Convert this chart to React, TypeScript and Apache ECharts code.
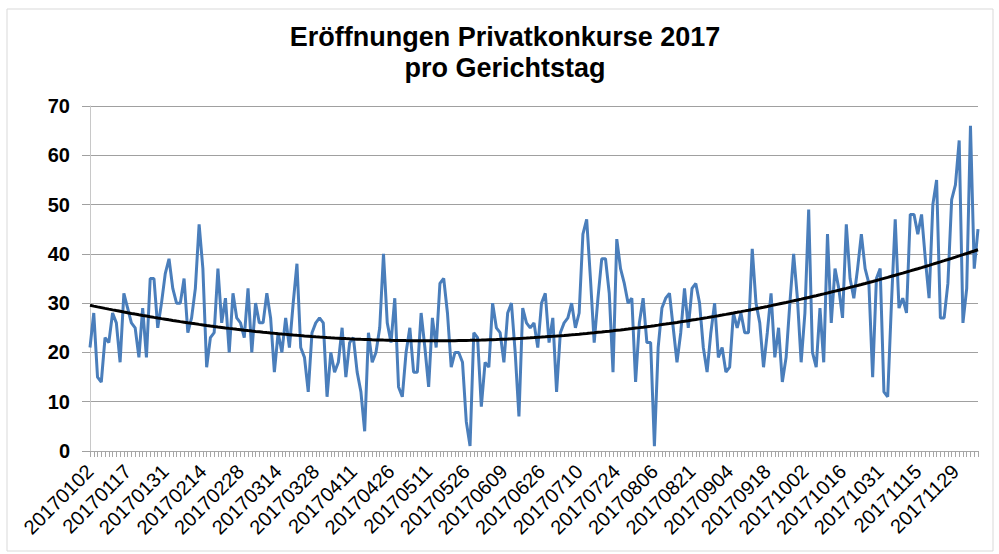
import React, { useEffect, useRef } from "react";
import * as echarts from "echarts";

// Court days: weekdays of 2017 minus Austrian holidays, plus one extra day present in the data
const firstDay = "20170102";
const lastDay = "20171207";
const holidays = [
  "20170101", "20170106", "20170417", "20170501", "20170525", "20170615",
  "20170815", "20171026", "20171101", "20171208", "20171225", "20171226",
];
const extraDays = ["20170806"];

const values = [
  21, 28, 15, 14, 23, 22, 28, 26, 18, 32,
  29, 26, 25, 19, 29, 19, 35, 35, 25, 30,
  36, 39, 33, 30, 30, 35, 24, 27, 33, 46,
  37, 17, 23, 24, 37, 26, 31, 20, 32, 27,
  26, 23, 33, 20, 30, 26, 26, 32, 27, 16,
  24, 20, 27, 21, 30, 38, 21, 19, 12, 24,
  26, 27, 26, 11, 20, 16, 18, 25, 15, 22,
  23, 16, 12, 4, 24, 18, 20, 25, 40, 26,
  22, 31, 13, 11, 20, 25, 16, 16, 28, 21,
  13, 27, 21, 34, 35, 28, 17, 20, 20, 18,
  6, 1, 24, 23, 9, 18, 17, 30, 25, 24,
  18, 28, 30, 20, 7, 29, 26, 25, 26, 21,
  30, 32, 22, 27, 12, 24, 26, 27, 30, 25,
  28, 44, 47, 35, 22, 31, 39, 39, 32, 16,
  43, 37, 34, 30, 31, 14, 26, 31, 22, 22,
  1, 21, 29, 31, 32, 25, 18, 24, 33, 25,
  33, 34, 30, 21, 16, 24, 30, 19, 21, 16,
  17, 28, 25, 28, 24, 24, 41, 30, 26, 17,
  24, 32, 19, 25, 14, 19, 30, 40, 31, 18,
  28, 49, 20, 17, 29, 18, 44, 26, 37, 33,
  27, 46, 35, 31, 37, 44, 37, 34, 15, 35,
  37, 12, 11, 30, 47, 29, 31, 28, 48, 48,
  44, 48, 39, 31, 50, 55, 27, 27, 34, 51,
  54, 63, 26, 33, 66, 37, 45,
];

const yTicks = [0, 10, 20, 30, 40, 50, 60, 70];

function fmt(d: Date): string {
  const y = d.getUTCFullYear();
  const m = String(d.getUTCMonth() + 1).padStart(2, "0");
  const dd = String(d.getUTCDate()).padStart(2, "0");
  return `${y}${m}${dd}`;
}

function buildCategories(): string[] {
  const out: string[] = [];
  const p = (s: string) => Date.UTC(+s.slice(0, 4), +s.slice(4, 6) - 1, +s.slice(6, 8));
  for (let t = p(firstDay); t <= p(lastDay); t += 86400000) {
    const d = new Date(t);
    const s = fmt(d);
    const wd = d.getUTCDay();
    if ((wd >= 1 && wd <= 5 && !holidays.includes(s)) || extraDays.includes(s)) out.push(s);
  }
  return out;
}

// Polynomial (order 2) least-squares trend line, as in the spreadsheet
function quadTrend(ys: number[]): number[] {
  const n = ys.length;
  let s0 = 0, s1 = 0, s2 = 0, s3 = 0, s4 = 0, t0 = 0, t1 = 0, t2 = 0;
  for (let i = 0; i < n; i++) {
    const x = i + 1;
    const y = ys[i];
    s0 += 1; s1 += x; s2 += x * x; s3 += x * x * x; s4 += x * x * x * x;
    t0 += y; t1 += x * y; t2 += x * x * y;
  }
  const A = [
    [s0, s1, s2, t0],
    [s1, s2, s3, t1],
    [s2, s3, s4, t2],
  ];
  for (let c = 0; c < 3; c++) {
    for (let r = c + 1; r < 3; r++) {
      const f = A[r][c] / A[c][c];
      for (let k = c; k < 4; k++) A[r][k] -= f * A[c][k];
    }
  }
  const coef = [0, 0, 0];
  for (let r = 2; r >= 0; r--) {
    let s = A[r][3];
    for (let k = r + 1; k < 3; k++) s -= A[r][k] * coef[k];
    coef[r] = s / A[r][r];
  }
  return ys.map((_, i) => {
    const x = i + 1;
    return coef[0] + coef[1] * x + coef[2] * x * x;
  });
}

export default function App() {
  const ref = useRef<HTMLDivElement>(null);
  useEffect(() => {
    if (!ref.current) return;
    const chart = echarts.init(ref.current, undefined, { renderer: "svg" });
    const categories = buildCategories();
    const trend = quadTrend(values);
    const font = "'Liberation Sans', Arial, sans-serif";
    chart.setOption({
      animation: false,
      backgroundColor: "#ffffff",
      graphic: [
        {
          type: "rect",
          shape: { x: 7, y: 9, width: 986, height: 542 },
          style: { fill: "none", stroke: "#d9d9d9", lineWidth: 1 },
          silent: true,
        },
        {
          type: "text",
          x: 505,
          y: 21,
          style: {
            text: "Eröffnungen Privatkonkurse 2017\npro Gerichtstag",
            font: `bold 27px ${font}`,
            fill: "#000000",
            textAlign: "center",
            textVerticalAlign: "top",
            lineHeight: 31,
          },
        },
      ],
      grid: { left: 90, right: 21, top: 106, bottom: 103, containLabel: false },
      xAxis: {
        type: "category",
        data: categories,
        boundaryGap: false,
        axisLine: { show: true, lineStyle: { color: "#a6a6a6", width: 1 } },
        axisTick: { show: true, interval: 0, length: 6, lineStyle: { color: "#a6a6a6" } },
        axisLabel: {
          interval: 9,
          rotate: 45,
          margin: 17,
          color: "#000000",
          fontSize: 20,
          fontFamily: font,
        },
        splitLine: { show: false },
      },
      yAxis: {
        type: "value",
        min: yTicks[0],
        max: yTicks[yTicks.length - 1],
        interval: 10,
        axisLine: { show: true, lineStyle: { color: "#c8c8c8", width: 1 } },
        axisTick: { show: true, length: 8, lineStyle: { color: "#a0a0a0" } },
        axisLabel: {
          margin: 20,
          color: "#000000",
          fontSize: 20,
          fontWeight: "bold",
          fontFamily: font,
        },
        splitLine: { show: true, lineStyle: { color: "#a0a0a0", width: 1 } },
      },
      series: [
        {
          type: "line",
          data: values,
          showSymbol: false,
          symbol: "none",
          lineStyle: { color: "#4a7ebb", width: 3 },
          z: 2,
        },
        {
          type: "line",
          data: trend,
          showSymbol: false,
          symbol: "none",
          lineStyle: { color: "#000000", width: 3 },
          z: 3,
        },
      ],
    });
    return () => chart.dispose();
  }, []);
  return (
    <div
      ref={ref}
      style={{ position: "fixed", left: 0, top: 0, width: 999, height: 554 }}
    />
  );
}
